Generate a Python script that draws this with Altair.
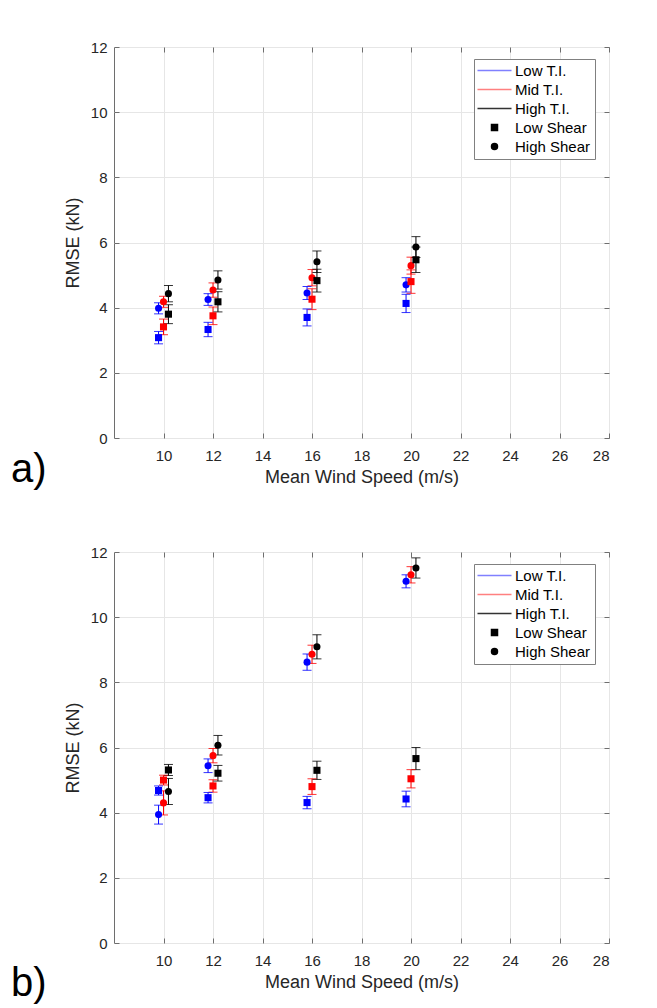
import altair as alt
import pandas as pd

FONT = "Liberation Sans"

speeds = [10, 12, 16, 20]
ti_levels = ["Low T.I.", "Mid T.I.", "High T.I."]
shear_levels = ["Low Shear", "High Shear"]
ti_colors = ["#0000ff", "#ff0000", "#000000"]

# Panel a) values (RMSE, kN) and half error-bar lengths
a_low_ti_low_shear = [3.08, 3.33, 3.70, 4.13]
a_low_ti_low_shear_err = [0.19, 0.22, 0.26, 0.28]
a_low_ti_high_shear = [3.98, 4.25, 4.45, 4.70]
a_low_ti_high_shear_err = [0.17, 0.18, 0.20, 0.22]
a_mid_ti_low_shear = [3.41, 3.75, 4.26, 4.80]
a_mid_ti_low_shear_err = [0.24, 0.27, 0.32, 0.36]
a_mid_ti_high_shear = [4.18, 4.54, 4.92, 5.29]
a_mid_ti_high_shear_err = [0.17, 0.22, 0.25, 0.26]
a_high_ti_low_shear = [3.80, 4.18, 4.83, 5.47]
a_high_ti_low_shear_err = [0.29, 0.31, 0.35, 0.39]
a_high_ti_high_shear = [4.43, 4.85, 5.41, 5.86]
a_high_ti_high_shear_err = [0.25, 0.28, 0.33, 0.32]

# Panel b)
b_low_ti_low_shear = [4.68, 4.46, 4.31, 4.42]
b_low_ti_low_shear_err = [0.14, 0.16, 0.19, 0.24]
b_low_ti_high_shear = [3.94, 5.44, 8.62, 11.10]
b_low_ti_high_shear_err = [0.29, 0.21, 0.25, 0.20]
b_mid_ti_low_shear = [5.00, 4.82, 4.80, 5.04]
b_mid_ti_low_shear_err = [0.15, 0.19, 0.24, 0.28]
b_mid_ti_high_shear = [4.30, 5.75, 8.86, 11.30]
b_mid_ti_high_shear_err = [0.37, 0.22, 0.28, 0.25]
b_high_ti_low_shear = [5.31, 5.21, 5.30, 5.66]
b_high_ti_low_shear_err = [0.17, 0.24, 0.28, 0.34]
b_high_ti_high_shear = [4.65, 6.07, 9.09, 11.51]
b_high_ti_high_shear_err = [0.40, 0.30, 0.37, 0.31]

x_ticks = [10, 12, 14, 16, 18, 20, 22, 24, 26, 28]
y_ticks = [0, 2, 4, 6, 8, 10, 12]

legend_entries = ["Low T.I.", "Mid T.I.", "High T.I.", "Low Shear", "High Shear"]

DODGE = {"Low T.I.": -0.2, "Mid T.I.": 0.0, "High T.I.": 0.2}


def build_df(series):
    rows = []
    for ti, shear, vals, errs in series:
        for s, v, e in zip(speeds, vals, errs):
            rows.append({"speed": s, "x": s + DODGE[ti], "ti": ti, "shear": shear,
                         "rmse": v, "lo": v - e, "hi": v + e})
    return pd.DataFrame(rows)


df_a = build_df([
    ("Low T.I.", "Low Shear", a_low_ti_low_shear, a_low_ti_low_shear_err),
    ("Low T.I.", "High Shear", a_low_ti_high_shear, a_low_ti_high_shear_err),
    ("Mid T.I.", "Low Shear", a_mid_ti_low_shear, a_mid_ti_low_shear_err),
    ("Mid T.I.", "High Shear", a_mid_ti_high_shear, a_mid_ti_high_shear_err),
    ("High T.I.", "Low Shear", a_high_ti_low_shear, a_high_ti_low_shear_err),
    ("High T.I.", "High Shear", a_high_ti_high_shear, a_high_ti_high_shear_err),
])
df_b = build_df([
    ("Low T.I.", "Low Shear", b_low_ti_low_shear, b_low_ti_low_shear_err),
    ("Low T.I.", "High Shear", b_low_ti_high_shear, b_low_ti_high_shear_err),
    ("Mid T.I.", "Low Shear", b_mid_ti_low_shear, b_mid_ti_low_shear_err),
    ("Mid T.I.", "High Shear", b_mid_ti_high_shear, b_mid_ti_high_shear_err),
    ("High T.I.", "Low Shear", b_high_ti_low_shear, b_high_ti_low_shear_err),
    ("High T.I.", "High Shear", b_high_ti_high_shear, b_high_ti_high_shear_err),
])
legend_df = pd.DataFrame({"entry": legend_entries})

W, H = 495, 391
xscale = alt.Scale(domain=[8, 28], nice=False, zero=False)
yscale = alt.Scale(domain=[0, 12], nice=False, zero=True)
cscale = alt.Scale(domain=ti_levels, range=ti_colors)
sscale = alt.Scale(domain=shear_levels, range=["square", "circle"])

LINE_PATH = "M-5.67,0H5.67"
leg_fill = ["#8080ff", "#ff8080", "#333333", "#000000", "#000000"]
leg_shape = [LINE_PATH, LINE_PATH, LINE_PATH, "square", "circle"]


def panel(df, label, label_dy):
    base = alt.Chart(df)
    x_main = alt.X("x:Q", scale=xscale,
                   axis=alt.Axis(values=x_ticks, title="Mean Wind Speed (m/s)", grid=True,
                                 offset=-5, tickSize=5, domain=False, labelPadding=10,
                                 titlePadding=5))
    y_main = alt.Y("lo:Q", scale=yscale,
                   axis=alt.Axis(values=y_ticks, title="RMSE (kN)", grid=True,
                                 offset=-5, tickSize=5, domain=False, labelPadding=7,
                                 titlePadding=8))
    color = alt.Color("ti:N", scale=cscale, legend=None)
    rules = base.mark_rule(strokeWidth=1).encode(x=x_main, y=y_main, y2="hi:Q", color=color)
    caps_lo = base.mark_tick(orient="horizontal", size=9, thickness=1, opacity=0.8).encode(
        x=alt.X("x:Q", scale=xscale,
                axis=alt.Axis(orient="top", values=x_ticks, labels=False, title=None, grid=False,
                              offset=-5, tickSize=5, domain=False)),
        y=alt.Y("lo:Q", scale=yscale,
                axis=alt.Axis(orient="right", values=y_ticks, labels=False, title=None, grid=False,
                              offset=-5, tickSize=5, domain=False)),
        color=color)
    caps_hi = base.mark_tick(orient="horizontal", size=9, thickness=1, opacity=0.8).encode(
        x=alt.X("x:Q", scale=xscale, axis=None),
        y=alt.Y("hi:Q", scale=yscale, axis=None),
        color=color)
    pts = base.mark_point(filled=True, size=50, opacity=1).encode(
        x=alt.X("x:Q", scale=xscale, axis=None),
        y=alt.Y("rmse:Q", scale=yscale, axis=None),
        color=color,
        shape=alt.Shape("shear:N", scale=sscale, legend=None))
    leg = alt.Legend(orient="none", legendX=360, legendY=12, title=None,
                     strokeColor="#808080", fillColor="white", padding=4,
                     labelFont=FONT, labelFontSize=15, labelColor="black",
                     symbolSize=36, symbolStrokeWidth=1.5, symbolOpacity=1,
                     rowPadding=3, symbolOffset=9, labelOffset=13)
    legend_layer = alt.Chart(legend_df).transform_filter("false").mark_point(
        filled=True, size=36, opacity=1).encode(
        color=alt.Color("entry:N", scale=alt.Scale(domain=legend_entries, range=leg_fill), legend=leg),
        stroke=alt.Stroke("entry:N", scale=alt.Scale(domain=legend_entries, range=leg_fill), legend=leg),
        shape=alt.Shape("entry:N", scale=alt.Scale(domain=legend_entries, range=leg_shape), legend=leg),
    )
    return alt.layer(rules, caps_lo, caps_hi, pts, legend_layer).resolve_scale(
        color="independent", shape="independent", stroke="independent"
    ).resolve_axis(x="independent", y="independent").properties(
        width=W, height=H,
        title=alt.TitleParams(label, orient="bottom", anchor="start", frame="group",
                              fontSize=40, font=FONT, fontWeight="normal", color="black",
                              dx=-103, dy=label_dy, offset=0))


chart = alt.vconcat(panel(df_a, "a)", -36), panel(df_b, "b)", -27), spacing=53).properties(
    padding={"left": 10, "top": 39, "right": 0, "bottom": 0},
    background="white",
).configure_view(stroke="#6e6e6e", strokeWidth=1).configure_axis(
    labelFont=FONT, titleFont=FONT, labelFontSize=15, titleFontSize=18,
    labelColor="#262626", titleColor="#262626", titleFontWeight="normal",
    tickColor="#6e6e6e", gridColor="#e6e6e6", gridWidth=1
)

chart.save("out.html", embed_options={"renderer": "svg", "actions": False})
